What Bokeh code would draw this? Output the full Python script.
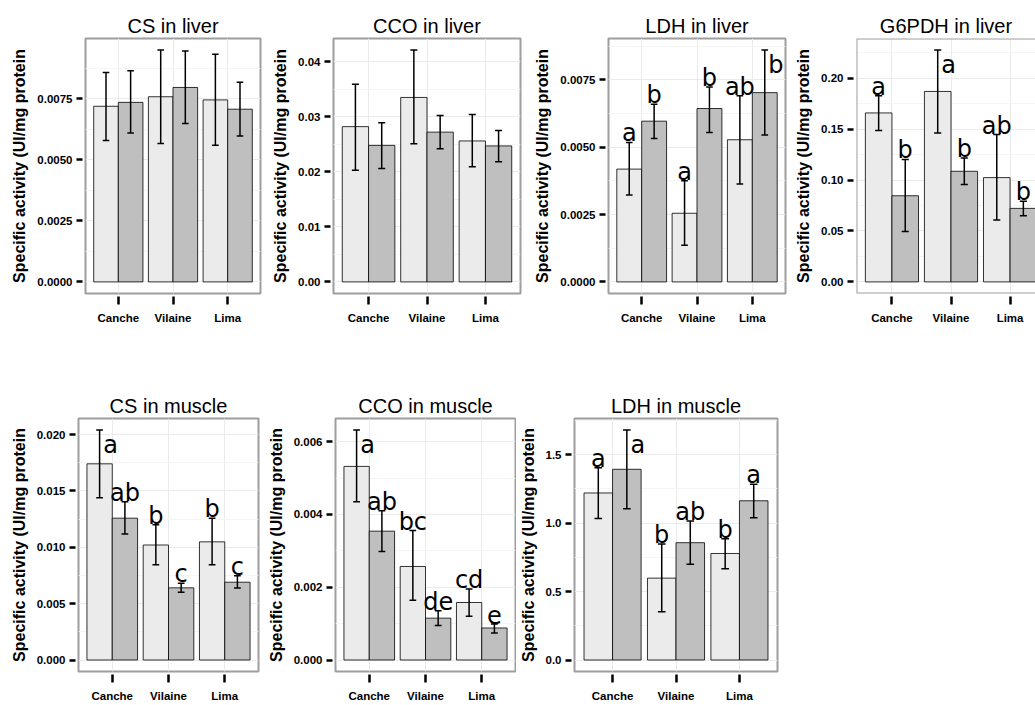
from bokeh.plotting import figure
from bokeh.layouts import column, row
from bokeh.models import FixedTicker, NumeralTickFormatter, Span
from bokeh.core.properties import value
from bokeh.embed import file_html
from bokeh.resources import INLINE

# ---------------- data ----------------
cats = ["Canche", "Vilaine", "Lima"]
ylabel = "Specific activity (UI/mg protein"

cs_liver_light = [0.00719, 0.00758, 0.00745]
cs_liver_light_lo = [0.00579, 0.00567, 0.00559]
cs_liver_light_hi = [0.00857, 0.00949, 0.00932]
cs_liver_dark = [0.00735, 0.00796, 0.00707]
cs_liver_dark_lo = [0.00610, 0.00648, 0.00597]
cs_liver_dark_hi = [0.00864, 0.00945, 0.00817]
cs_liver_ticks = [0.0, 0.0025, 0.005, 0.0075]

cco_liver_light = [0.0282, 0.0335, 0.0256]
cco_liver_light_lo = [0.0203, 0.0251, 0.0209]
cco_liver_light_hi = [0.0359, 0.0421, 0.0304]
cco_liver_dark = [0.0248, 0.0272, 0.0247]
cco_liver_dark_lo = [0.0206, 0.0242, 0.0218]
cco_liver_dark_hi = [0.0289, 0.0302, 0.0275]
cco_liver_ticks = [0.0, 0.01, 0.02, 0.03, 0.04]

ldh_liver_light = [0.00419, 0.00255, 0.00528]
ldh_liver_light_lo = [0.00323, 0.00136, 0.00364]
ldh_liver_light_hi = [0.00518, 0.00376, 0.00691]
ldh_liver_dark = [0.00597, 0.00644, 0.00703]
ldh_liver_dark_lo = [0.00533, 0.00555, 0.00546]
ldh_liver_dark_hi = [0.00660, 0.00724, 0.00861]
ldh_liver_letters_light = ["a", "a", "ab"]
ldh_liver_letters_dark = ["b", "b", "b"]
ldh_liver_ticks = [0.0, 0.0025, 0.005, 0.0075]

g6pdh_liver_light = [0.1659, 0.1870, 0.1024]
g6pdh_liver_light_lo = [0.1486, 0.1463, 0.0608]
g6pdh_liver_light_hi = [0.1828, 0.2276, 0.1447]
g6pdh_liver_dark = [0.0846, 0.1086, 0.0722]
g6pdh_liver_dark_lo = [0.0494, 0.0956, 0.0650]
g6pdh_liver_dark_hi = [0.1203, 0.1216, 0.0793]
g6pdh_liver_letters_light = ["a", "a", "ab"]
g6pdh_liver_letters_dark = ["b", "b", "b"]
g6pdh_liver_ticks = [0.0, 0.05, 0.10, 0.15, 0.20]

cs_muscle_light = [0.0174, 0.0102, 0.01048]
cs_muscle_light_lo = [0.0144, 0.00845, 0.00845]
cs_muscle_light_hi = [0.0204, 0.0120, 0.01258]
cs_muscle_dark = [0.01258, 0.0064, 0.0069]
cs_muscle_dark_lo = [0.01118, 0.0060, 0.00638]
cs_muscle_dark_hi = [0.01403, 0.0068, 0.00748]
cs_muscle_letters_light = ["a", "b", "b"]
cs_muscle_letters_dark = ["ab", "c", "c"]
cs_muscle_ticks = [0.0, 0.005, 0.010, 0.015, 0.020]

cco_muscle_light = [0.00532, 0.00257, 0.00158]
cco_muscle_light_lo = [0.00435, 0.00164, 0.00120]
cco_muscle_light_hi = [0.00632, 0.00356, 0.00195]
cco_muscle_dark = [0.00354, 0.00115, 0.00088]
cco_muscle_dark_lo = [0.00298, 0.00095, 0.00074]
cco_muscle_dark_hi = [0.00410, 0.00135, 0.00099]
cco_muscle_letters_light = ["a", "bc", "cd"]
cco_muscle_letters_dark = ["ab", "de", "e"]
cco_muscle_ticks = [0.0, 0.002, 0.004, 0.006]

ldh_muscle_light = [1.22, 0.598, 0.778]
ldh_muscle_light_lo = [1.034, 0.352, 0.667]
ldh_muscle_light_hi = [1.405, 0.847, 0.885]
ldh_muscle_dark = [1.393, 0.857, 1.163]
ldh_muscle_dark_lo = [1.105, 0.699, 1.039]
ldh_muscle_dark_hi = [1.68, 1.015, 1.283]
ldh_muscle_letters_light = ["a", "b", "b"]
ldh_muscle_letters_dark = ["a", "ab", "a"]
ldh_muscle_ticks = [0.0, 0.5, 1.0, 1.5]

# ---------------- styles ----------------
FONT = "Liberation Sans"
LETTER_FONT = "DejaVu Sans"
LIGHT = "#ebebeb"
DARK = "#bfbfbf"
FRAME = "#9e9e9e"
DODGE = 0.225
BARW = 0.45
CAP = 0.06
LETTER_ABOVE_PX = 9     # middle of letter box above the error-bar top
LETTER_SIDE_PX = -15    # middle of side letter box below the error-bar top


def make_panel(title, light, llo, lhi, dark, dlo, dhi, ticks, fmt,
               lett_l=None, lett_d=None, side_l=(), side_d=(),
               width=260, height=380, bl=70, br=5, bt=38, bb=87,
               frame_full=None):
    M = max(max(lhi), max(dhi))
    y0, y1 = -0.05 * M, 1.05 * M
    frame_w = width - bl - br
    frame_h = height - bt - bb
    px = (y1 - y0) / frame_h
    x_end = 3.6
    if frame_full is not None:
        x_end = 0.4 + 3.2 * frame_w / frame_full
    p = figure(width=width, height=height, x_range=(0.4, x_end), y_range=(y0, y1),
               output_backend="svg", toolbar_location=None,
               min_border_left=bl, min_border_right=br,
               min_border_top=bt, min_border_bottom=bb)
    p.background_fill_color = "white"
    p.border_fill_color = "white"
    if frame_full is None:
        p.outline_line_color = FRAME
        p.outline_line_width = 2
    else:
        p.outline_line_color = None
        for loc, dim in ((y0, "width"), (y1, "width"), (0.4, "height")):
            p.add_layout(Span(location=loc, dimension=dim, line_color=FRAME, line_width=2))

    # title
    p.title.text = title
    p.title.align = "center"
    p.title.text_font = FONT
    p.title.text_font_size = "20px"
    p.title.text_font_style = "normal"
    p.title.text_color = "black"
    p.title.standoff = 4

    step = ticks[1] - ticks[0]
    minors = [t + step / 2 for t in ticks] + [ticks[0] - step / 2]

    # x axis
    xa = p.xaxis[0]
    xa.ticker = FixedTicker(ticks=[1, 2, 3])
    xa.major_label_overrides = {i + 1: c for i, c in enumerate(cats)}
    xa.axis_line_color = None
    xa.major_tick_in = -3
    xa.major_tick_out = 11
    xa.major_tick_line_width = 2.5
    xa.major_tick_line_color = "black"
    xa.minor_tick_line_color = None
    xa.major_label_standoff = 7
    xa.major_label_text_font = FONT
    xa.major_label_text_font_size = "11.5px"
    xa.major_label_text_font_style = "bold"
    xa.major_label_text_color = "black"

    # y axis
    ya = p.yaxis[0]
    ya.ticker = FixedTicker(ticks=ticks, minor_ticks=minors)
    ya.formatter = NumeralTickFormatter(format=fmt)
    ya.axis_line_color = None
    ya.major_tick_in = -3
    ya.major_tick_out = 9
    ya.major_tick_line_width = 2.5
    ya.major_tick_line_color = "black"
    ya.minor_tick_line_color = None
    ya.major_label_standoff = 4
    ya.major_label_text_font = FONT
    ya.major_label_text_font_size = "11.5px"
    ya.major_label_text_font_style = "bold"
    ya.major_label_text_color = "black"
    ya.axis_label = ylabel
    ya.axis_label_text_font = FONT
    ya.axis_label_text_font_size = "16px"
    ya.axis_label_text_font_style = "bold"
    ya.axis_label_text_color = "black"
    ya.axis_label_standoff = 6

    p.xgrid.grid_line_color = "#ebebeb"
    p.ygrid.grid_line_color = "#ebebeb"
    p.ygrid.minor_grid_line_color = "#f5f5f5"

    xs = [i + 1 for i in range(len(cats))]
    xl = [x - DODGE for x in xs]
    xd = [x + DODGE for x in xs]

    p.vbar(x=xl, top=light, bottom=0, width=BARW, fill_color=LIGHT,
           line_color="black", line_width=0.8)
    p.vbar(x=xd, top=dark, bottom=0, width=BARW, fill_color=DARK,
           line_color="black", line_width=0.8)

    for xx, lo, hi in ((xl, llo, lhi), (xd, dlo, dhi)):
        p.segment(x0=xx, y0=lo, x1=xx, y1=hi, line_color="black", line_width=1.5)
        p.segment(x0=[x - CAP for x in xx], y0=hi, x1=[x + CAP for x in xx], y1=hi,
                  line_color="black", line_width=1.5)
        p.segment(x0=[x - CAP for x in xx], y0=lo, x1=[x + CAP for x in xx], y1=lo,
                  line_color="black", line_width=1.5)

    for xx, hi, lett, side in ((xl, lhi, lett_l, side_l), (xd, dhi, lett_d, side_d)):
        if not lett:
            continue
        idx_n = [i for i in range(3) if i not in side]
        if idx_n:
            p.text(x=[xx[i] for i in idx_n],
                   y=[hi[i] + LETTER_ABOVE_PX * px for i in idx_n],
                   text=[lett[i] for i in idx_n], text_font=value(LETTER_FONT),
                   text_font_size="24px", text_align="center",
                   text_baseline="middle", text_color="black")
        if side:
            p.text(x=[xx[i] for i in side],
                   y=[hi[i] + LETTER_SIDE_PX * px for i in side],
                   text=[lett[i] for i in side], text_font=value(LETTER_FONT),
                   text_font_size="24px", text_align="center", x_offset=11,
                   text_baseline="middle", text_color="black")
    return p


H1, BT1, BB1 = 380, 38, 87
H2, BT2, BB2 = 324, 38, 31

f1 = make_panel("CS in liver", cs_liver_light, cs_liver_light_lo, cs_liver_light_hi,
                cs_liver_dark, cs_liver_dark_lo, cs_liver_dark_hi, cs_liver_ticks, "0.0000",
                width=265, height=H1, bl=85, br=5, bt=BT1, bb=BB1)
f2 = make_panel("CCO in liver", cco_liver_light, cco_liver_light_lo, cco_liver_light_hi,
                cco_liver_dark, cco_liver_dark_lo, cco_liver_dark_hi, cco_liver_ticks, "0.00",
                width=260, height=H1, bl=68, br=5, bt=BT1, bb=BB1)
f3 = make_panel("LDH in liver", ldh_liver_light, ldh_liver_light_lo, ldh_liver_light_hi,
                ldh_liver_dark, ldh_liver_dark_lo, ldh_liver_dark_hi, ldh_liver_ticks, "0.0000",
                lett_l=ldh_liver_letters_light, lett_d=ldh_liver_letters_dark, side_d=(2,),
                width=265, height=H1, bl=83, br=5, bt=BT1, bb=BB1)
f4 = make_panel("G6PDH in liver", g6pdh_liver_light, g6pdh_liver_light_lo, g6pdh_liver_light_hi,
                g6pdh_liver_dark, g6pdh_liver_dark_lo, g6pdh_liver_dark_hi, g6pdh_liver_ticks, "0.00",
                lett_l=g6pdh_liver_letters_light, lett_d=g6pdh_liver_letters_dark, side_l=(1,),
                width=245, height=H1, bl=66, br=0, bt=BT1, bb=BB1, frame_full=189)
f5 = make_panel("CS in muscle", cs_muscle_light, cs_muscle_light_lo, cs_muscle_light_hi,
                cs_muscle_dark, cs_muscle_dark_lo, cs_muscle_dark_hi, cs_muscle_ticks, "0.000",
                lett_l=cs_muscle_letters_light, lett_d=cs_muscle_letters_dark, side_l=(0,),
                width=262, height=H2, bl=78, br=4, bt=BT2, bb=BB2)
f6 = make_panel("CCO in muscle", cco_muscle_light, cco_muscle_light_lo, cco_muscle_light_hi,
                cco_muscle_dark, cco_muscle_dark_lo, cco_muscle_dark_hi, cco_muscle_ticks, "0.000",
                lett_l=cco_muscle_letters_light, lett_d=cco_muscle_letters_dark, side_l=(0,),
                width=254, height=H2, bl=73, br=1, bt=BT2, bb=BB2)
f7 = make_panel("LDH in muscle", ldh_muscle_light, ldh_muscle_light_lo, ldh_muscle_light_hi,
                ldh_muscle_dark, ldh_muscle_dark_lo, ldh_muscle_dark_hi, ldh_muscle_ticks, "0.0",
                lett_l=ldh_muscle_letters_light, lett_d=ldh_muscle_letters_dark, side_d=(0,),
                width=269, height=H2, bl=56, br=8, bt=BT2, bb=BB2)

layout = column(row(f1, f2, f3, f4, spacing=0), row(f5, f6, f7, spacing=0), spacing=0)

open("out.html", "w").write(file_html(layout, INLINE))
